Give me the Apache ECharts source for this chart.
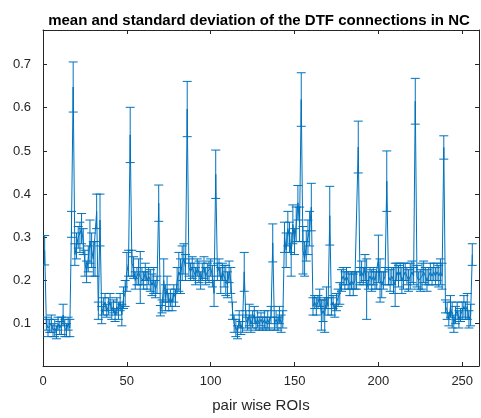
<!DOCTYPE html>
<html>
<head>
<meta charset="utf-8">
<script src="https://cdn.jsdelivr.net/npm/echarts@6/dist/echarts.min.js"></script>
<style>
html,body{margin:0;padding:0;background:#fff;}
#chart{width:481px;height:418px;}
</style>
</head>
<body>
<div id="chart"></div>
<script>
// mean DTF value for each ROI pair (1..256)
const means = [
  0.27,0.10,0.09,0.095,0.10,0.085,0.09,0.08,0.10,0.09,0.095,0.12,0.09,0.085,0.10,0.09,
  0.33,0.648,0.26,0.28,0.30,0.30,0.32,0.29,0.24,0.22,0.25,0.29,0.27,0.25,0.25,0.36,
  0.13,0.34,0.12,0.14,0.15,0.13,0.14,0.15,0.13,0.14,0.12,0.14,0.13,0.15,0.12,0.16,
  0.17,0.22,0.24,0.537,0.24,0.23,0.20,0.21,0.22,0.207,0.21,0.20,0.22,0.20,0.21,0.20,
  0.19,0.20,0.18,0.19,0.379,0.13,0.14,0.20,0.16,0.18,0.15,0.16,0.15,0.17,0.16,0.20,
  0.22,0.21,0.24,0.25,0.23,0.597,0.23,0.22,0.23,0.22,0.21,0.23,0.22,0.20,0.22,0.23,
  0.21,0.22,0.22,0.23,0.21,0.17,0.446,0.22,0.23,0.20,0.22,0.21,0.20,0.19,0.22,0.20,
  0.13,0.10,0.09,0.08,0.11,0.09,0.10,0.22,0.11,0.10,0.12,0.10,0.11,0.12,0.10,0.11,
  0.10,0.11,0.10,0.11,0.10,0.11,0.10,0.12,0.287,0.10,0.11,0.10,0.12,0.10,0.11,0.30,
  0.27,0.32,0.30,0.26,0.33,0.29,0.33,0.38,0.33,0.619,0.27,0.25,0.28,0.30,0.32,0.37,
  0.14,0.15,0.14,0.15,0.16,0.12,0.13,0.12,0.16,0.14,0.35,0.14,0.15,0.13,0.15,0.16,
  0.17,0.20,0.21,0.20,0.21,0.20,0.19,0.20,0.19,0.20,0.20,0.509,0.21,0.22,0.21,0.23,
  0.18,0.20,0.21,0.20,0.21,0.20,0.20,0.25,0.20,0.19,0.20,0.21,0.43,0.21,0.20,0.21,
  0.20,0.19,0.22,0.21,0.22,0.20,0.21,0.22,0.21,0.20,0.21,0.22,0.21,0.615,0.21,0.20,
  0.20,0.21,0.22,0.21,0.20,0.21,0.22,0.21,0.22,0.21,0.22,0.21,0.22,0.21,0.508,0.14,
  0.13,0.11,0.14,0.12,0.10,0.12,0.13,0.11,0.12,0.13,0.14,0.13,0.14,0.11,0.12,0.26
];
// standard deviation for each ROI pair
const stds = [
  0.034,0.015,0.02,0.015,0.02,0.015,0.02,0.015,0.015,0.015,0.02,0.025,0.02,0.015,0.015,0.02,
  0.03,0.058,0.025,0.03,0.025,0.035,0.035,0.03,0.03,0.025,0.03,0.05,0.04,0.04,0.04,0.04,
  0.02,0.06,0.02,0.02,0.02,0.015,0.02,0.02,0.02,0.015,0.015,0.02,0.02,0.02,0.025,0.025,
  0.03,0.045,0.03,0.064,0.03,0.025,0.02,0.02,0.03,0.06,0.02,0.02,0.02,0.02,0.02,0.025,
  0.025,0.03,0.02,0.02,0.042,0.012,0.015,0.05,0.03,0.03,0.02,0.02,0.02,0.02,0.02,0.03,
  0.045,0.04,0.04,0.035,0.03,0.064,0.02,0.02,0.025,0.02,0.02,0.02,0.025,0.02,0.02,0.025,
  0.02,0.02,0.025,0.02,0.025,0.03,0.056,0.02,0.02,0.03,0.02,0.025,0.035,0.03,0.025,0.03,
  0.02,0.02,0.02,0.015,0.02,0.015,0.02,0.045,0.02,0.015,0.025,0.02,0.02,0.02,0.015,0.02,
  0.015,0.015,0.015,0.02,0.015,0.02,0.015,0.02,0.044,0.015,0.02,0.015,0.02,0.02,0.02,0.035,
  0.04,0.04,0.035,0.05,0.045,0.03,0.04,0.04,0.04,0.062,0.055,0.04,0.035,0.04,0.04,0.055,
  0.02,0.015,0.02,0.015,0.02,0.035,0.025,0.04,0.025,0.02,0.068,0.02,0.015,0.015,0.02,0.02,
  0.025,0.025,0.02,0.02,0.02,0.02,0.025,0.02,0.025,0.02,0.02,0.06,0.02,0.025,0.02,0.03,
  0.07,0.02,0.02,0.025,0.02,0.02,0.02,0.055,0.05,0.03,0.02,0.02,0.07,0.02,0.025,0.02,
  0.03,0.05,0.02,0.025,0.02,0.03,0.03,0.02,0.02,0.025,0.03,0.025,0.02,0.053,0.025,0.02,
  0.025,0.03,0.025,0.02,0.025,0.02,0.02,0.02,0.02,0.02,0.02,0.025,0.03,0.03,0.027,0.015,
  0.02,0.015,0.025,0.03,0.02,0.02,0.02,0.02,0.015,0.02,0.025,0.02,0.03,0.02,0.025,0.025
];
const xTicks = [0, 50, 100, 150, 200, 250];
const yTicks = [0.1, 0.2, 0.3, 0.4, 0.5, 0.6, 0.7];
const titleText = 'mean and standard deviation of the DTF connections in NC';
const xLabel = 'pair wise ROIs';

const lineData = means.map((m, i) => [i + 1, m]);
const errData = means.map((m, i) => [i + 1, m - stds[i], m + stds[i]]);

const COLOR = '#0072BD';
const AX = '#262626';
const FONT = 'Liberation Sans, Arial, Helvetica, sans-serif';

const chart = echarts.init(document.getElementById('chart'), null, {renderer: 'canvas'});
const axisCommon = {
  axisLine: {show: true, onZero: false, lineStyle: {color: AX, width: 1}},
  splitLine: {show: false}
};
chart.setOption({
  animation: false,
  backgroundColor: '#ffffff',
  title: {
    text: titleText, left: 254, textAlign: 'center', top: 8,
    textStyle: {fontFamily: FONT, fontSize: 15, fontWeight: 'bold', color: '#000'}
  },
  grid: {left: 43, right: 2, top: 30, bottom: 43, containLabel: false},
  xAxis: [
    Object.assign({
      type: 'value', min: 0, max: 260, position: 'bottom',
      name: xLabel, nameLocation: 'middle', nameGap: 32,
      nameTextStyle: {fontFamily: FONT, fontSize: 15, color: AX},
      axisTick: {show: true, inside: true, length: 4, customValues: xTicks, lineStyle: {color: AX}},
      axisLabel: {show: true, customValues: xTicks, margin: 9, fontFamily: FONT, fontSize: 13, color: AX}
    }, axisCommon),
    Object.assign({
      type: 'value', min: 0, max: 260, position: 'top',
      axisTick: {show: true, inside: true, length: 4, customValues: xTicks, lineStyle: {color: AX}},
      axisLabel: {show: false}
    }, axisCommon)
  ],
  yAxis: [
    Object.assign({
      type: 'value', min: 0.002, max: 0.78, position: 'left',
      axisTick: {show: true, inside: true, length: 4, customValues: yTicks, lineStyle: {color: AX}},
      axisLabel: {show: true, customValues: yTicks, margin: 12, fontFamily: FONT, fontSize: 13, color: AX,
        formatter: v => v.toFixed(1)}
    }, axisCommon),
    Object.assign({
      type: 'value', min: 0.002, max: 0.78, position: 'right',
      axisTick: {show: true, inside: true, length: 4, customValues: yTicks, lineStyle: {color: AX}},
      axisLabel: {show: false}
    }, axisCommon)
  ],
  series: [
    {
      type: 'line', data: lineData, xAxisIndex: 0, yAxisIndex: 0,
      symbol: 'none', lineStyle: {color: COLOR, width: 1}, z: 3
    },
    {
      type: 'custom', data: errData, xAxisIndex: 0, yAxisIndex: 0, z: 4, clip: true,
      encode: {x: 0, y: [1, 2]},
      renderItem: function (params, api) {
        const x = api.value(0);
        const lo = api.coord([x, api.value(1)]);
        const hi = api.coord([x, api.value(2)]);
        const w = 4.5;
        const style = {stroke: COLOR, lineWidth: 1, fill: null};
        return {
          type: 'group',
          children: [
            {type: 'line', shape: {x1: hi[0], y1: hi[1], x2: lo[0], y2: lo[1]}, style: style},
            {type: 'line', shape: {x1: hi[0] - w, y1: hi[1], x2: hi[0] + w, y2: hi[1]}, style: style},
            {type: 'line', shape: {x1: lo[0] - w, y1: lo[1], x2: lo[0] + w, y2: lo[1]}, style: style}
          ]
        };
      }
    }
  ]
});
</script>
</body>
</html>
